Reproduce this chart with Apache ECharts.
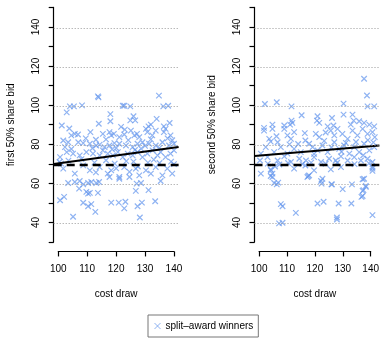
<!DOCTYPE html>
<html>
<head>
<meta charset="utf-8">
<script src="https://cdn.jsdelivr.net/npm/echarts@6/dist/echarts.min.js"></script>
<style>
  html, body { margin: 0; padding: 0; background: #fff; }
  #main { width: 382px; height: 351px; }
</style>
</head>
<body>
<div id="main"></div>
<script>
// values: [cost draw, bid]
var firstBid = [
  [113.7,105.1],[113.9,104.6],[134.8,105.5],[102.9,96.9],[104,100],[105.4,100],[108.2,100.5],
  [122.3,100.3],[122.8,100.3],[124.9,100],[136.3,100],[138,100.3],[118,96],[118,92.3],[114,91],
  [101.2,90.1],[121.7,89.4],[126,94.9],[124.9,92.8],[126.6,92.8],[134,93.5],[132,90.6],[131.2,89.7],
  [136.5,89.7],[138.5,91.4],
  [105.7,85.8],[104.5,85],[106.8,85.5],[111.1,86.7],[115.4,85.8],[117.7,86.7],[118.3,85],[119.2,85.8],
  [121.1,84.1],[122.8,85.5],[125.1,87.5],[126.3,85],[127.2,85.8],[128,84.1],[130.3,88.4],[130.8,86.7],
  [132.5,85],[133.7,87.5],[136.5,86.7],[137.1,88.4],[138.8,85],[101.7,82.4],[103.4,81.5],[102.3,79],
  [106.9,81.5],[108.6,81],[110.9,80.7],[113.1,79.8],[114.3,80.3],[116,79],[117.7,79.8],[119.4,81],
  [121.1,80.7],[123.4,79.8],[125.7,79],[127.4,80.7],[129.1,81.5],[131.4,80.7],[133.7,79.8],[136,81.5],
  [138.3,79.8],[140,80.7],
  [109.5,83.5],[113,82.8],[116.5,83],[120,78.5],[124.2,82.6],[128.6,78.2],[132,83],[135,78.6],[139.4,82.5],
  [104.5,78],[111.8,78.4],[118.6,77.8],[126.5,77.5],[130,79.6],[137.8,83.5],[123,88],[103.8,88.6],
  [100.6,73.8],[102.9,76.4],[105.1,75.6],[107.4,74.7],[109.7,76.4],[112,75.6],[114.3,74.7],[115.4,77.3],
  [117.1,75.6],[118.9,74.7],[120.6,76.4],[122.3,73.8],[124,75.6],[125.7,74.7],[127.4,76.4],[129.1,73.8],
  [130.8,75.6],[132.6,77.3],[134.3,74.7],[135.4,76.4],[137.1,73.8],[138.8,75.6],[140,77.3],
  [101,70.5],[103.5,72],[112.5,71],[119.5,70.5],[126,71.5],[131,71],[135,70.8],[139,71.5],[140,70.2],
  [127.5,69],[116.5,72.2],[108,72.8],[120,68],[113,66],[133,72.5],[123.5,71.8],
  [100.4,71.3],[101.7,67.9],[105.7,65.3],[108.6,69.6],[110.9,67],[114.3,68.7],[117.1,65.3],[118.3,67],
  [121.1,63.6],[122.8,68.7],[124.6,66.2],[126.8,67.9],[128,64.4],[130.3,67],[132,65.3],[133.7,68.7],
  [136,64.4],[137.7,67.9],[139.4,65.3],
  [103.4,60.5],[105.7,61],[107.4,61.5],[108.6,59.8],[110.3,60.5],[111.4,61],[113.1,60.5],[114.1,61],
  [117.7,63.6],[121.1,62.7],[124.6,63.6],[107.2,57.6],[109.7,55.9],[110.3,55],[110.9,55.4],[113.7,55.4],
  [127.1,60.2],[128.6,60.5],[126.8,56.4],[131.2,56.8],[135.4,61.5],[100.6,51.6],[102,53.3],[108.6,50.3],
  [110.3,48.5],[111.4,49.6],[112.8,45.6],[118.3,50.4],[120.9,50.4],[123.2,50.8],[122.8,47.4],[127.4,48.5],
  [128.9,50.4],[133.5,51.1],[105.1,43.1],[128.2,42.7]
];

var secondBid = [
  [136.3,114.2],[137.3,105.6],[102,101.2],[106.1,102.1],[111.2,100],[129.2,101.4],[137.5,100],[139.8,100],
  [114.7,95.4],[129.2,95.7],[120.2,94.9],[120,92.6],[120.8,91.5],[125.2,94],[132.3,95.7],[132.7,92.6],
  [131.7,90.6],[111.2,92.6],[110.7,90.6],[111.5,91.5],[108.7,90.1],[104.6,90.6],[101.7,88.9],[123.7,89.7],
  [125.7,90.1],[134.6,92.3],[136.3,91.5],[138.1,90.6],[139.8,89.7],
  [101.7,87.5],[103.5,83.2],[104.6,88.4],[106.4,81.5],[108.7,88.4],[109.8,85],[111,83.2],[112.1,86.7],
  [119.6,85.8],[120.8,84.1],[124.8,87.5],[126,85],[127.1,88.4],[128.8,85.8],[130.6,83.2],[132.3,87.5],
  [134,85],[135.8,88.4],[137.5,85.8],[139.2,86.7],[140,84.1],
  [100.6,75.6],[102.3,79],[105.2,76.4],[107.5,79],[109.8,75.6],[112.1,78.1],[114.4,76.4],[117.3,80.7],
  [118.5,79],[120.2,77.3],[121.9,79.8],[123.7,76.4],[126,81.5],[127.7,78.1],[129.4,79.8],[131.2,75.6],
  [132.9,79],[134.6,76.4],[136.3,80.7],[138.1,77.3],[139.8,79],
  [104,81.8],[113.5,80.6],[116,82.4],[122.5,82.2],[125,78.8],[130,81.2],[133.5,81.6],[137.6,82.6],
  [110.5,80.4],[119,75.5],[128.5,76.6],[136,74.8],[106,84.6],[115.8,86.2],[123,86.5],[139.5,81.4],
  [100.3,72.1],[102.9,73.8],[106.4,72.1],[108.7,74.2],[111,71.3],[113.9,73],[116.2,72.1],[119,73.8],
  [121.4,71.3],[124.2,73],[126.5,72.1],[128.3,74.2],[130.6,72.1],[132.9,73.8],[135.2,72.1],[137.5,73],
  [139.2,71.3],
  [103,70.5],[107,70],[110,70.8],[115,70.2],[118,71],[123,70.4],[127,70.9],[133,70.2],[138,70.6],
  [105.5,69],[116,69.5],
  [100.6,65.3],[104.1,67],[104.6,63.6],[112.1,67.9],[117.3,64.4],[119,67],[121.9,62.7],[128.3,68.7],
  [136.3,62.7],[139.2,67.9],
  [104,67.5],[104.6,65.3],[104,64.1],[106.1,59.8],[106.6,60.7],[117,64.1],[121.6,60.2],[124.8,67.5],
  [125.2,59.8],[128.9,57.3],[132.1,59.8],[135.8,62.4],[135.8,53.8],[136.1,56.8],[136.9,59],[139.2,66.7],
  [139.2,68.7],
  [105.2,60.5],[116.7,63.6],[121.4,61.5],[125,59.8],[136.9,58.5],[135.8,56.4],[135.4,53.3],
  [107.5,49.6],[108.1,48.5],[112.7,45.1],[120.2,49.9],[122.3,50.8],[127.5,49.9],[131.9,49.9],
  [126.9,42.7],[126.9,41.7],[139.2,43.9],[106.9,39.7],[108.1,40]
];

// fitted lines: [intercept at cost 100, slope]
var fitFirst = [70.6, 0.204];
var fitSecond = [74.6, 0.125];
var referenceBid = 70;

var xTicks = [100, 110, 120, 130, 140];
var yTickLabels = [40, 60, 80, 100, 120, 140];
var yNames = ['first 50% share bid', 'second 50% share bid'];
var xName = 'cost draw';
var legendName = 'split\u2013award winners';

var chart = echarts.init(document.getElementById('main'), null, { renderer: 'canvas' });

var FONT = 'Liberation Sans, Arial, sans-serif';
var BLUE = 'rgba(100,149,237,0.9)';
var CROSS = 'path://M0,0L10,10M10,0L0,10';
// plot region is the axis range padded by 4% like R does
var xLo = 98.4, xHi = 141.6, yLo = 25.2, yHi = 154.8;

var panelLeft = [53.7, 254.5];
var grids = [], xAxes = [], yAxes = [], series = [];

function fitLine(fit) {
  return [xLo, xHi].map(function (x) { return [x, fit[0] + fit[1] * (x - 100)]; });
}

[firstBid, secondBid].forEach(function (pts, i) {
  var left = panelLeft[i];
  var a = grids.length, b = a + 1;
  // grid for the visible axes (100-140, 30-150)
  grids.push({ left: left + 4.6, top: 7.45, width: 115.65, height: 234.6 });
  // grid for the whole plot region
  grids.push({ left: left, top: -1.93, width: 124.9, height: 253.4 });

  xAxes.push({
    gridIndex: a, type: 'value', min: xTicks[0], max: xTicks[xTicks.length - 1], interval: 10,
    offset: 9.4,
    axisLine: { show: true, onZero: false, lineStyle: { color: '#000', width: 1.2 } },
    axisTick: { show: true, length: 5, lineStyle: { color: '#000', width: 1.2 } },
    axisLabel: { margin: 13, fontSize: 10, color: '#000', fontFamily: FONT },
    splitLine: { show: false },
    name: xName, nameLocation: 'middle', nameGap: 38,
    nameTextStyle: { fontSize: 10, color: '#000', fontFamily: FONT }
  });
  yAxes.push({
    gridIndex: a, type: 'value', min: 30, max: 150, interval: 10,
    offset: 4.6,
    axisLine: { show: true, onZero: false, lineStyle: { color: '#000', width: 1.2 } },
    axisTick: { show: true, length: 5, lineStyle: { color: '#000', width: 1.2 } },
    axisLabel: {
      rotate: 90, margin: 12, fontSize: 10, color: '#000', fontFamily: FONT,
      formatter: function (v) { return yTickLabels.indexOf(v) >= 0 ? String(v) : ''; }
    },
    splitLine: { show: false },
    name: yNames[i], nameLocation: 'middle', nameGap: 37,
    nameTextStyle: { fontSize: 10, color: '#000', fontFamily: FONT }
  });
  xAxes.push({ gridIndex: b, type: 'value', min: xLo, max: xHi, show: false, splitLine: { show: false } });
  yAxes.push({ gridIndex: b, type: 'value', min: yLo, max: yHi, show: false, splitLine: { show: false } });

  var xi = xAxes.length - 1, yi = yAxes.length - 1;

  // dotted grid lines
  series.push({
    type: 'line', xAxisIndex: xi, yAxisIndex: yi, data: [], z: 1, silent: true,
    markLine: {
      silent: true, symbol: ['none', 'none'], label: { show: false },
      lineStyle: { color: '#999', width: 1, type: [1, 2] },
      data: yTickLabels.map(function (v) { return { yAxis: v }; })
    }
  });
  series.push({
    name: legendName, type: 'scatter', xAxisIndex: xi, yAxisIndex: yi, z: 2,
    data: pts, symbol: CROSS, symbolSize: 5.5,
    itemStyle: { color: BLUE, borderColor: BLUE, borderWidth: 1.2 }
  });
  series.push({
    type: 'line', xAxisIndex: xi, yAxisIndex: yi, z: 3, silent: true,
    data: fitLine(i === 0 ? fitFirst : fitSecond), showSymbol: false, symbol: 'none',
    lineStyle: { color: '#000', width: 2 },
    markLine: {
      silent: true, symbol: ['none', 'none'], label: { show: false },
      lineStyle: { color: '#000', width: 2.4, type: [8, 5] },
      data: [{ yAxis: referenceBid }]
    }
  });
});

var option = {
  backgroundColor: '#fff',
  animation: false,
  textStyle: { fontFamily: FONT },
  grid: grids,
  xAxis: xAxes,
  yAxis: yAxes,
  legend: {
    data: [{ name: legendName, icon: CROSS }],
    left: 148, top: 315,
    padding: [6, 5, 6, 6],
    borderColor: '#777', borderWidth: 1,
    itemWidth: 6, itemHeight: 6, itemGap: 5,
    itemStyle: { color: BLUE, borderColor: BLUE, borderWidth: 1 },
    textStyle: { fontSize: 10, color: '#000', fontFamily: FONT }
  },
  series: series
};
chart.setOption(option);
</script>
</body>
</html>
